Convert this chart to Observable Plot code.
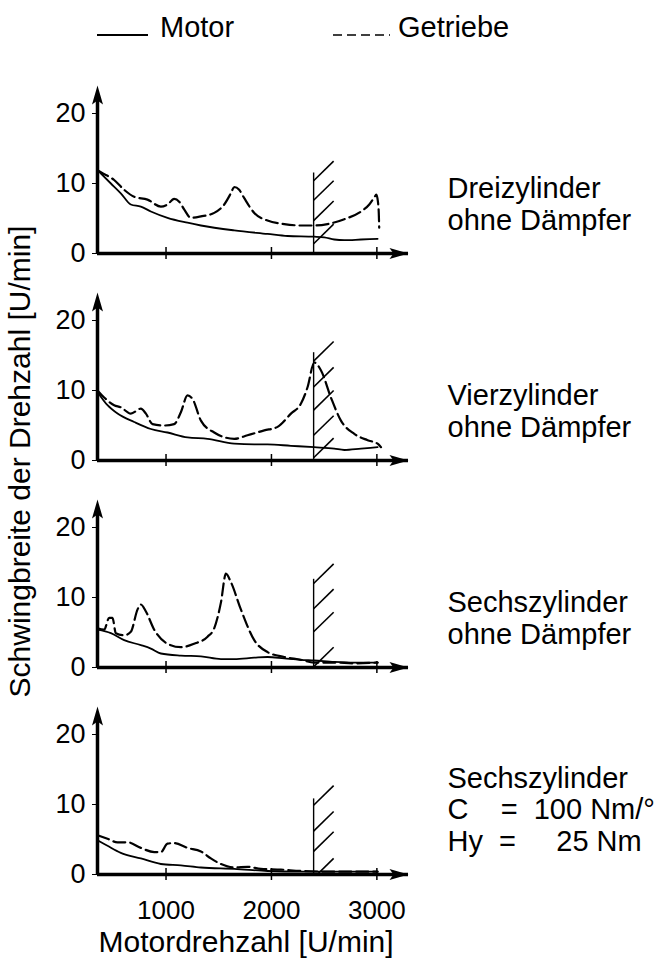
<!DOCTYPE html>
<html><head><meta charset="utf-8">
<script src="https://cdn.jsdelivr.net/npm/d3@7"></script>
<script src="https://cdn.jsdelivr.net/npm/@observablehq/plot@0.6"></script>
<style>
body{margin:0;background:#fff;font-family:"Liberation Sans",Arial,sans-serif;}
#chart{width:660px;}
svg{display:block;}
</style></head><body><div id="chart"></div>
<script>
// ---- categories / labels ----
const panels = ["Dreizylinder", "Vierzylinder", "Sechszylinder", "Sechszylinder gedämpft"];
const panelLabels = [
  "Dreizylinder\nohne Dämpfer",
  "Vierzylinder\nohne Dämpfer",
  "Sechszylinder\nohne Dämpfer",
  "Sechszylinder\nC\u00a0\u00a0\u00a0\u00a0=\u00a0\u00a0100 Nm/°\nHy\u00a0\u00a0=\u00a0\u00a0\u00a0\u00a0\u00a025 Nm"
];
const seriesNames = ["Motor", "Getriebe"];
const xTicks = [1000, 2000, 3000];
const yTicks = [0, 10, 20];
const xDomain = [350, 3300];
const yDomain = [0, 24];
const xLabel = "Motordrehzahl [U/min]";
const yLabel = "Schwingbreite der Drehzahl [U/min]";

// ---- series values: [Motordrehzahl, Schwingbreite] ----
const dreiMotor = [[350,11.9],[477,10.0],[571,8.6],[666,7.0],[761,6.7],[856,6.0],[1014,5.1],[1204,4.4],[1331,4.0],[1647,3.3],[1963,2.8],[2153,2.5],[2406,2.4],[2501,2.3],[2596,2.0],[2691,1.9],[2850,2.0],[3007,2.1]];
const dreiGetriebe = [[350,11.9],[382,11.6],[508,10.5],[603,9.1],[698,8.1],[824,7.7],[951,6.7],[1014,7.0],[1077,7.8],[1125,7.4],[1172,6.3],[1236,5.1],[1331,5.3],[1457,5.8],[1552,7.0],[1615,8.6],[1647,9.5],[1694,9.1],[1742,7.9],[1837,5.8],[1963,4.7],[2121,4.2],[2279,4.0],[2406,4.0],[2532,4.2],[2691,4.9],[2850,6.0],[2928,7.0],[2975,8.0],[2995,8.4],[3010,7.4],[3018,5.8],[3022,3.7]];
const vierMotor = [[350,9.8],[445,7.9],[540,6.7],[698,5.5],[856,4.5],[1014,4.0],[1204,3.3],[1394,3.1],[1647,2.4],[1837,2.3],[1963,2.3],[2185,2.1],[2406,1.9],[2596,1.7],[2691,1.5],[2850,1.7],[3007,1.9]];
const vierGetriebe = [[350,10.0],[413,9.0],[508,7.9],[571,7.6],[666,6.7],[761,7.4],[809,6.7],[872,5.2],[983,5.0],[1077,5.2],[1141,6.9],[1204,9.3],[1251,8.8],[1331,5.7],[1457,4.0],[1647,3.1],[1773,3.6],[1932,4.3],[2058,4.8],[2185,6.7],[2279,8.1],[2343,10.5],[2406,14.0],[2469,12.9],[2564,9.0],[2659,5.7],[2786,3.8],[2912,2.9],[3007,2.4],[3039,1.9]];
const sechsMotor = [[350,5.4],[477,4.9],[603,3.9],[761,3.2],[856,2.7],[951,2.0],[1141,1.7],[1331,1.6],[1521,1.2],[1647,1.2],[1837,1.4],[1963,1.5],[2121,1.3],[2279,1.1],[2406,1.0],[2596,0.8],[2786,0.7],[3007,0.7]];
const sechsGetriebe = [[350,5.6],[413,5.4],[461,7.1],[492,7.1],[524,4.9],[603,4.6],[666,5.1],[730,8.3],[761,9.0],[809,8.0],[888,5.4],[1014,3.4],[1141,2.9],[1267,3.4],[1394,4.4],[1457,5.6],[1521,9.3],[1568,13.4],[1615,12.2],[1710,8.3],[1837,3.9],[1963,2.2],[2121,1.5],[2279,1.1],[2406,0.7],[2596,0.7],[2786,0.6],[3007,0.7]];
const daempferMotor = [[350,4.9],[445,4.1],[571,3.1],[761,2.3],[951,1.5],[1141,1.3],[1331,1.0],[1647,0.8],[1963,0.5],[2279,0.4],[2596,0.4],[3007,0.4]];
const daempferGetriebe = [[350,5.6],[445,5.1],[540,4.6],[635,4.6],[761,3.8],[888,3.2],[951,3.2],[1014,4.4],[1077,4.5],[1204,3.8],[1331,3.3],[1425,2.3],[1521,1.5],[1647,1.0],[1773,1.1],[1900,0.8],[2090,0.7],[2279,0.5],[2596,0.4],[3007,0.4]];

// ---- hatched limit (schraffierte Grenze) ----
const hatchRpm = 2400;
const hatchTop = [11.5, 15.4, 12.6, 10.8];
const hatchStarts = [[10.4, 7.6, 4.7, 1.4], [14.2, 10.5, 7.2, 3.6, 0.4], [12.0, 8.4, 5.1, 0.1], [9.9, 6.2, 3.3, -0.5]];
const hatchSpanRpm = 190;
const hatchRise = 2.8;

// ---- build tables ----
const motorRows = [], getriebeRows = [];
[[dreiMotor, dreiGetriebe], [vierMotor, vierGetriebe], [sechsMotor, sechsGetriebe], [daempferMotor, daempferGetriebe]].forEach(([m, g], i) => {
  m.forEach(([rpm, amp]) => motorRows.push({panel: panels[i], series: seriesNames[0], rpm, amp}));
  g.forEach(([rpm, amp]) => getriebeRows.push({panel: panels[i], series: seriesNames[1], rpm, amp}));
});
const hatchVert = panels.map((p, i) => ({panel: p, rpm: hatchRpm, top: hatchTop[i]}));
const hatchRows = [];
panels.forEach((p, i) => hatchStarts[i].forEach(s => hatchRows.push({panel: p, x1: hatchRpm, y1: s, x2: hatchRpm + hatchSpanRpm, y2: s + hatchRise})));
const labelRows = panels.map((p, i) => ({panel: p, text: panelLabels[i]}));

const arrowSymbol = {draw(ctx) { ctx.moveTo(0, 0); ctx.lineTo(5.5, 19); ctx.lineTo(0, 15); ctx.lineTo(-5.5, 19); ctx.closePath(); }};
const FONT = '"Liberation Sans", Arial, sans-serif';

// ---- legend (above the plot) ----
const legend = d3.create("svg").attr("width", 660).attr("height", 56).attr("font-family", FONT);
legend.append("line").attr("x1", 97).attr("x2", 148).attr("y1", 35).attr("y2", 35).attr("stroke", "black").attr("stroke-width", 1.8);
legend.append("text").attr("x", 160).attr("y", 37).attr("font-size", 29).text(seriesNames[0]);
legend.append("line").attr("x1", 333).attr("x2", 390).attr("y1", 35).attr("y2", 35).attr("stroke", "black").attr("stroke-width", 1.6).attr("stroke-dasharray", "9,5");
legend.append("text").attr("x", 398).attr("y", 37).attr("font-size", 29).text(seriesNames[1]);
document.getElementById("chart").append(legend.node());

const chart = Plot.plot({
  width: 660, height: 906,
  marginTop: 28, marginBottom: 87, marginLeft: 97, marginRight: 252,
  style: {fontFamily: FONT, fontSize: "27px", background: "white", color: "black", overflow: "visible"},
  x: {domain: xDomain, axis: null},
  y: {domain: yDomain, axis: null},
  fy: {domain: panels, axis: null, paddingInner: 0.19, paddingOuter: 0},
  marks: [
    // hatched limit
    Plot.ruleX(hatchVert, {x: "rpm", y1: 0, y2: "top", fy: "panel", stroke: "black", strokeWidth: 1.4}),
    Plot.link(hatchRows, {x1: "x1", y1: "y1", x2: "x2", y2: "y2", fy: "panel", stroke: "black", strokeWidth: 1.6, clip: true}),
    // curves
    Plot.line(motorRows, {x: "rpm", y: "amp", fy: "panel", curve: "monotone-x", stroke: "black", strokeWidth: 1.8}),
    Plot.line(getriebeRows, {x: "rpm", y: "amp", fy: "panel", curve: "monotone-x", stroke: "black", strokeWidth: 2.2, strokeDasharray: "12,5"}),
    // axes with arrows
    Plot.ruleY([0], {stroke: "black", strokeWidth: 3.5}),
    Plot.ruleX([xDomain[0]], {y1: 0, y2: yDomain[1] - 1.5, stroke: "black", strokeWidth: 3.5}),
    Plot.dot([{x: xDomain[0], y: yDomain[1]}], {x: "x", y: "y", symbol: arrowSymbol, fill: "black", stroke: null}),
    Plot.dot([{x: xDomain[1], y: 0}], {x: "x", y: "y", symbol: arrowSymbol, rotate: 90, fill: "black", stroke: null}),
    Plot.tickX(xTicks, {x: d => d, insetTop: 162, insetBottom: -6, stroke: "black", strokeWidth: 1.5}),
    Plot.axisY(yTicks, {tickSize: 5, tickPadding: 7, fontSize: 27, label: null}),
    Plot.axisX(xTicks, {tickSize: 0, tickPadding: 26, fontSize: 26, label: null, tickFormat: d => String(d)}),
    // texts
    Plot.text(labelRows, {fy: "panel", text: "text", frameAnchor: "bottom-right", textAnchor: "start", lineAnchor: "bottom", dx: 39, dy: -24, fontSize: 29, lineHeight: 1.07}),
    Plot.text([{panel: panels[3], text: xLabel}], {fy: "panel", text: "text", frameAnchor: "bottom", lineAnchor: "bottom", dx: -7, dy: 77, fontSize: 30}),
    Plot.text([{panel: panels[1], text: yLabel}], {fy: "panel", text: "text", frameAnchor: "bottom-left", textAnchor: "middle", lineAnchor: "middle", rotate: -90, dx: -77, dy: 1, fontSize: 30})
  ]
});
document.getElementById("chart").append(chart);
</script></body></html>
